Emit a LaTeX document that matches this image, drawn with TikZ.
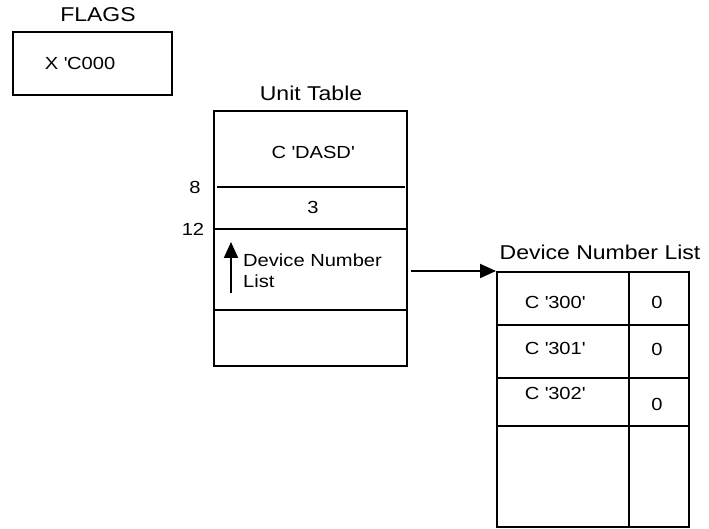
\documentclass[tikz,border=0pt]{standalone}
\usepackage{fontspec}
\setmainfont{Liberation Sans}[FakeStretch=1.15]
\usetikzlibrary{arrows.meta}
\newcommand\sq{\textquotesingle}
\tikzset{
  box/.style={draw, line width=2pt, rectangle, inner sep=0pt},
  lbl/.style={font=\fontsize{17.5}{21}\selectfont, inner sep=0pt},
  ttl/.style={font=\fontsize{20}{23}\selectfont, inner sep=0pt},
  sep/.style={line width=2pt},
  conn/.style={line width=2pt, -{Triangle[length=16pt,width=14pt]}}
}
\begin{document}
\begin{tikzpicture}[x=1pt,y=-1pt]
\useasboundingbox (0,0) rectangle (709,529);
% FLAGS
\node[ttl] (flagsT) at (98,15) {FLAGS};
\node[box, minimum width=159pt, minimum height=63pt] (flags) at (92.5,63.5) {};
\node[lbl] (flagsV) at (80,63) {X \sq C000};
% Unit table
\node[ttl] (unitT) at (311,93) {Unit Table};
\node[box, minimum width=193pt, minimum height=255pt] (unit) at (310.5,238.5) {};
\draw[sep] (217,187) -- (405,187);
\draw[sep] (214,229) -- (407,229);
\draw[sep] (214,310) -- (407,310);
\node[lbl] (dasd) at (313,152) {C \sq DASD\sq};
\node[lbl] (three) at (313,207) {3};
\node[lbl] (off8) at (195,187) {8};
\node[lbl] (off12) at (193,229) {12};
\coordinate (pa) at (231,293);
\coordinate (pb) at (231,242);
\draw[conn] (pa) -- (pb);
\node[lbl, anchor=west, align=left] (dnl) at (243,271) {Device Number\\List};
% Device number list
\node[ttl] (devT) at (600,252) {Device Number List};
\node[box, minimum width=192pt, minimum height=255pt] (dev) at (593,399.5) {};
\draw[sep] (629,272) -- (629,527);
\draw[sep] (497,325) -- (689,325);
\draw[sep] (497,378) -- (689,378);
\draw[sep] (497,426) -- (689,426);
\node[lbl] (r1) at (555,302) {C \sq 300\sq};
\node[lbl] (z1) at (657,302) {0};
\node[lbl] (r2) at (555,348) {C \sq 301\sq};
\node[lbl] (z2) at (657,349) {0};
\node[lbl] (r3) at (555,393) {C \sq 302\sq};
\node[lbl] (z3) at (657,404) {0};
% connector
\draw[conn] ([xshift=3pt]unit.east |- dev.north west) -- (dev.north west);
\end{tikzpicture}
\end{document}
